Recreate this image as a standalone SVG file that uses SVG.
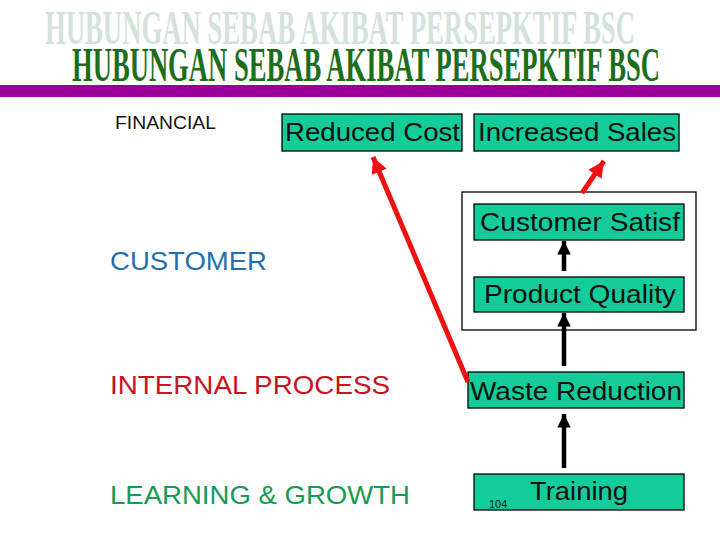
<svg xmlns="http://www.w3.org/2000/svg" width="720" height="540" viewBox="0 0 720 540">
<defs>
<style>
.box{fill:#14cc99;stroke:#000;stroke-width:1.3}
.bt{font-family:"Liberation Sans",Arial,sans-serif;font-size:26px;fill:#111}
.lab{font-family:"Liberation Sans",Arial,sans-serif;font-size:26px}
.ttl{font-family:"Liberation Serif","Times New Roman",serif;font-weight:bold;font-size:48px}
.blk{stroke:#000;stroke-width:4.5;fill:none}
.red{stroke:#ee1111;stroke-width:5;fill:none}
</style>
<marker id="ab" viewBox="0 0 10 10" refX="10" refY="5" markerWidth="3.2" markerHeight="3" orient="auto" markerUnits="strokeWidth"><path d="M0,0 L10,5 L0,10 z" fill="#000"/></marker>
<marker id="ar" viewBox="0 0 10 10" refX="10" refY="5" markerWidth="3.4" markerHeight="3.2" orient="auto" markerUnits="strokeWidth"><path d="M0,0 L10,5 L0,10 z" fill="#ee1111"/></marker>
</defs>
<rect width="720" height="540" fill="#fff"/>
<g id="title">
<text class="ttl" x="45" y="44" fill="#d4e2dc" textLength="590" lengthAdjust="spacingAndGlyphs">HUBUNGAN SEBAB AKIBAT PERSEPKTIF BSC</text>
<text class="ttl" x="72" y="81" fill="#1c6e1c" textLength="588" lengthAdjust="spacingAndGlyphs">HUBUNGAN SEBAB AKIBAT PERSEPKTIF BSC</text>
<rect x="0" y="85" width="720" height="12" fill="#990099"/>
</g>
<g id="labels">
<text x="115" y="129" font-family="Liberation Sans,Arial,sans-serif" font-size="18" fill="#111" textLength="101" lengthAdjust="spacingAndGlyphs">FINANCIAL</text>
<text class="lab" x="110" y="270" fill="#1f6fb0" textLength="157" lengthAdjust="spacingAndGlyphs">CUSTOMER</text>
<text class="lab" x="110" y="394" fill="#cc1122" textLength="280" lengthAdjust="spacingAndGlyphs">INTERNAL PROCESS</text>
<text class="lab" x="110" y="504" fill="#179a52" textLength="300" lengthAdjust="spacingAndGlyphs">LEARNING &amp; GROWTH</text>
</g>
<rect id="frame" x="462" y="192" width="234" height="138" fill="none" stroke="#000" stroke-width="1.3"/>
<g id="reduced-cost">
<rect class="box" x="282" y="114" width="180" height="37"/>
<text class="bt" x="285" y="141" textLength="175" lengthAdjust="spacingAndGlyphs">Reduced Cost</text>
</g>
<g id="increased-sales">
<rect class="box" x="474" y="114" width="205" height="37"/>
<text class="bt" x="478" y="141" textLength="198" lengthAdjust="spacingAndGlyphs">Increased Sales</text>
</g>
<g id="customer-satisf">
<rect class="box" x="474" y="204" width="210" height="36"/>
<text class="bt" x="480" y="231" textLength="200" lengthAdjust="spacingAndGlyphs">Customer Satisf</text>
</g>
<g id="product-quality">
<rect class="box" x="474" y="277" width="210" height="35"/>
<text class="bt" x="484" y="303" textLength="192" lengthAdjust="spacingAndGlyphs">Product Quality</text>
</g>
<g id="waste-reduction">
<rect class="box" x="468" y="372" width="216" height="36"/>
<text class="bt" x="470" y="400" textLength="212" lengthAdjust="spacingAndGlyphs">Waste Reduction</text>
</g>
<g id="training">
<rect class="box" x="474" y="474" width="210" height="36"/>
<text class="bt" x="530" y="500" textLength="98" lengthAdjust="spacingAndGlyphs">Training</text>
<text x="489" y="508" font-family="Liberation Sans,Arial,sans-serif" font-size="11" fill="#111">104</text>
</g>
<g id="connectors">
<line class="blk" x1="564" y1="271" x2="564" y2="241" marker-end="url(#ab)"/>
<line class="blk" x1="564" y1="366" x2="564" y2="313" marker-end="url(#ab)"/>
<line class="blk" x1="564" y1="468" x2="564" y2="414" marker-end="url(#ab)"/>
<line class="red" x1="468" y1="382" x2="373" y2="157" marker-end="url(#ar)"/>
<line class="red" x1="582" y1="193" x2="604" y2="161" marker-end="url(#ar)"/>
</g>
</svg>
